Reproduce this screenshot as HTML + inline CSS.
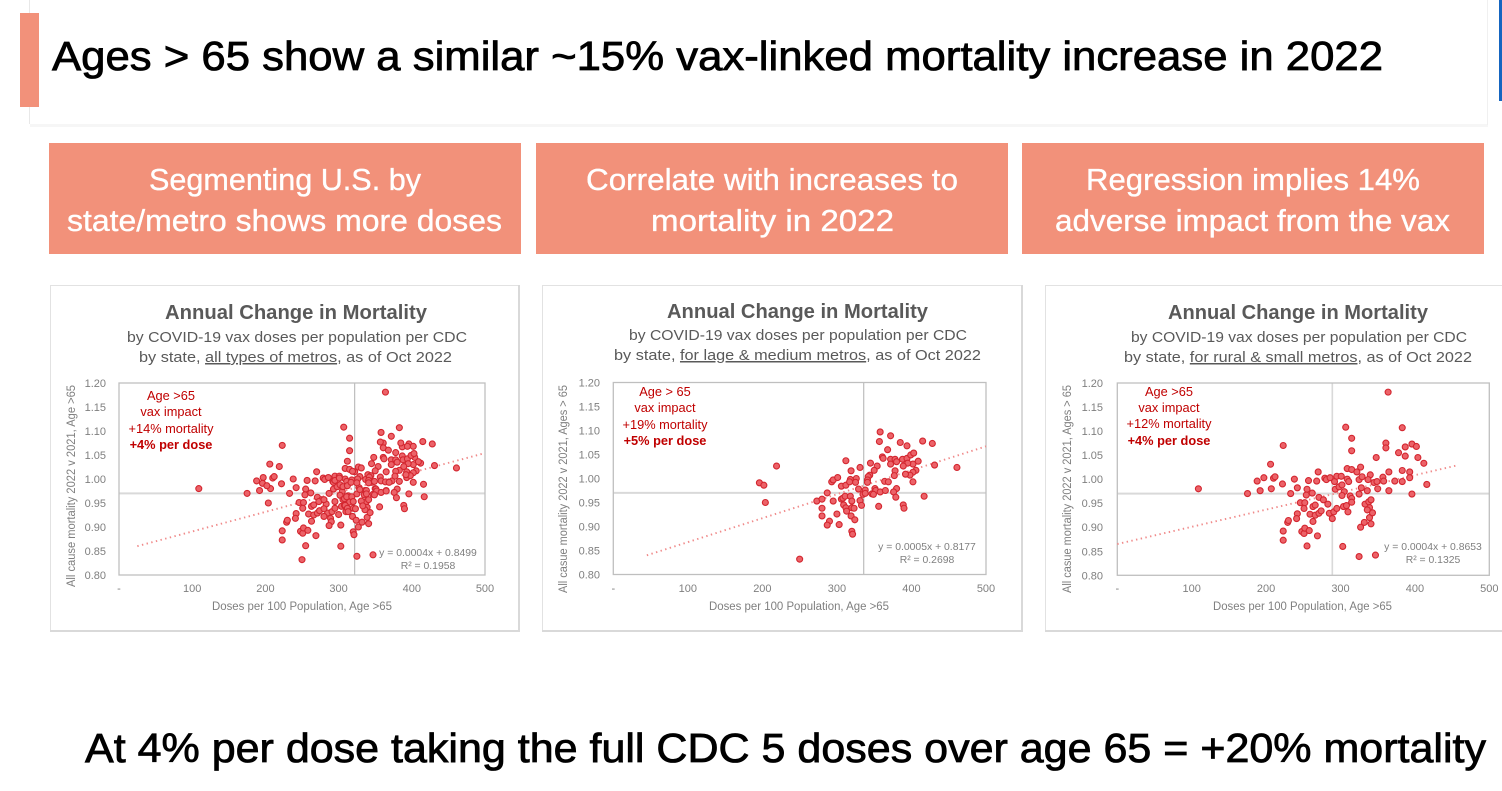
<!DOCTYPE html>
<html lang="en">
<head>
<meta charset="utf-8">
<title>Ages over 65 vax-linked mortality</title>
<style>
html,body{margin:0;padding:0;background:#fff;width:1502px;height:791px;overflow:hidden}
svg{display:block;font-family:"Liberation Sans",sans-serif}
.hd{fill:#fff;font-size:31px;stroke:#fff;stroke-width:.35}
.big{fill:#000;font-size:41px;stroke:#000;stroke-width:.8}
.ct{fill:#595959;font-size:20px;font-weight:bold}
.cs{fill:#595959;font-size:15px}
.tick{fill:#7f7f7f;font-size:11px}
.axt{fill:#7f7f7f;font-size:11.5px}
.ann{fill:#c00000;font-size:12.8px;text-anchor:middle}
.eq{fill:#7f7f7f;font-size:10.4px;text-anchor:middle}
.soft{filter:blur(.3px)}
</style>
</head>
<body>
<svg id="slide" width="1502" height="791" viewBox="0 0 1502 791" xmlns="http://www.w3.org/2000/svg">
  <rect x="30" y="124" width="1458" height="3" fill="#f6f6f6"/>
  <line x1="29.5" y1="0" x2="29.5" y2="124" stroke="#e8e8e8"/>
  <line x1="1487.5" y1="0" x2="1487.5" y2="125" stroke="#f0f0f0"/>
  <rect x="20" y="13" width="19" height="94" fill="#f2917a"/>
  <rect x="1499" y="0" width="3" height="101" fill="#1565c0"/>
  <text class="big" x="52" y="70" textLength="1331" lengthAdjust="spacingAndGlyphs">Ages &gt; 65 show a similar ~15% vax-linked mortality increase in 2022</text>

  <rect x="49" y="143" width="472" height="111" fill="#f2917a"/>
  <text class="hd" x="149" y="190" textLength="272" lengthAdjust="spacingAndGlyphs">Segmenting U.S. by</text>
  <text class="hd" x="67" y="231" textLength="435" lengthAdjust="spacingAndGlyphs">state/metro shows more doses</text>

  <rect x="536" y="143" width="472" height="111" fill="#f2917a"/>
  <text class="hd" x="586" y="190" textLength="372" lengthAdjust="spacingAndGlyphs">Correlate with increases to</text>
  <text class="hd" x="651" y="231" textLength="243" lengthAdjust="spacingAndGlyphs">mortality in 2022</text>

  <rect x="1022" y="143" width="462" height="111" fill="#f2917a"/>
  <text class="hd" x="1086" y="190" textLength="334" lengthAdjust="spacingAndGlyphs">Regression implies 14%</text>
  <text class="hd" x="1055" y="231" textLength="395" lengthAdjust="spacingAndGlyphs">adverse impact from the vax</text>

  <g id="chart1" class="soft">
    <rect x="50.5" y="285.5" width="468" height="345" fill="#fff" stroke="#e2e2e2" stroke-width="1"/>
    <path d="M519 285V631H50" fill="none" stroke="#d9d9d9" stroke-width="2"/>
    <text class="ct" x="165" y="319" textLength="262" lengthAdjust="spacingAndGlyphs">Annual Change in Mortality</text>
    <text class="cs" x="127" y="342" textLength="340" lengthAdjust="spacingAndGlyphs">by COVID-19 vax doses per population per CDC</text>
    <text class="cs" x="139" y="362" textLength="313" lengthAdjust="spacingAndGlyphs">by state, <tspan text-decoration="underline">all types of metros</tspan>, as of Oct 2022</text>
    <text class="axt" transform="translate(75,587) rotate(-90)" textLength="202" lengthAdjust="spacingAndGlyphs">All cause mortality 2022 v 2021, Age &gt;65</text>
    <text class="axt" x="212" y="610" textLength="180" lengthAdjust="spacingAndGlyphs">Doses per 100 Population, Age &gt;65</text>
  </g>

  <g id="chart2" class="soft">
    <rect x="542.5" y="285.5" width="479" height="345" fill="#fff" stroke="#e2e2e2" stroke-width="1"/>
    <path d="M1022 285V631H542" fill="none" stroke="#d9d9d9" stroke-width="2"/>
    <text class="ct" x="667" y="318" textLength="261" lengthAdjust="spacingAndGlyphs">Annual Change in Mortality</text>
    <text class="cs" x="629" y="340" textLength="338" lengthAdjust="spacingAndGlyphs">by COVID-19 vax doses per population per CDC</text>
    <text class="cs" x="614" y="360" textLength="367" lengthAdjust="spacingAndGlyphs">by state, <tspan text-decoration="underline">for lage &amp; medium metros</tspan>, as of Oct 2022</text>
    <text class="axt" transform="translate(567,593) rotate(-90)" textLength="208" lengthAdjust="spacingAndGlyphs">All casue mortality 2022 v 2021, Ages &gt; 65</text>
    <text class="axt" x="709" y="610" textLength="180" lengthAdjust="spacingAndGlyphs">Doses per 100 Population, Age &gt;65</text>
  </g>

  <g id="chart3" class="soft">
    <rect x="1045.5" y="285.5" width="470" height="345" fill="#fff" stroke="#e2e2e2" stroke-width="1"/>
    <path d="M1045 631H1510" fill="none" stroke="#d9d9d9" stroke-width="2"/>
    <text class="ct" x="1168" y="319" textLength="260" lengthAdjust="spacingAndGlyphs">Annual Change in Mortality</text>
    <text class="cs" x="1131" y="342" textLength="336" lengthAdjust="spacingAndGlyphs">by COVID-19 vax doses per population per CDC</text>
    <text class="cs" x="1124" y="362" textLength="348" lengthAdjust="spacingAndGlyphs">by state, <tspan text-decoration="underline">for rural &amp; small metros</tspan>, as of Oct 2022</text>
    <text class="axt" transform="translate(1071,593) rotate(-90)" textLength="208" lengthAdjust="spacingAndGlyphs">All casue mortality 2022 v 2021, Ages &gt; 65</text>
    <text class="axt" x="1213" y="610" textLength="179" lengthAdjust="spacingAndGlyphs">Doses per 100 Population, Age &gt;65</text>
  </g>

  <text class="big" x="85" y="762" textLength="1401" lengthAdjust="spacingAndGlyphs">At 4% per dose taking the full CDC 5 doses over age 65 = +20% mortality</text>
</svg>

<script>
const xTickValues = [0, 100, 200, 300, 400, 500];
const xTickLabels = ['-', '100', '200', '300', '400', '500'];
const yTickValues = [0.80, 0.85, 0.90, 0.95, 1.00, 1.05, 1.10, 1.15, 1.20];
const yTickLabels = ['0.80', '0.85', '0.90', '0.95', '1.00', '1.05', '1.10', '1.15', '1.20'];

const chart1Doses = [
109,175,188,192,197,206,207,210,212,223,
222,223,223,238,233,242,242,241,229,230,
248,251,252,258,255,269,270,257,268,255,
254,262,246,252,251,263,266,259,266,263,
271,271,274,277,283,285,289,291,295,279,
281,286,292,295,301,293,298,302,305,302,
313,315,315,304,308,310,307,315,315,309,
315,322,327,309,311,325,329,340,337,345,
349,357,358,328,325,336,350,365,348,361,
361,365,364,303,325,347,327,332,341,339,
343,339,333,338,341,336,378,383,387,387,
396,402,404,412,383,393,393,383,373,416,
396,
196,202,204,219,250,273,280,280,280,287,
290,287,293,295,301,306,312,312,319,318,
317,326,325,331,295,306,308,311,318,320,
309,312,313,300,303,320,323,319,324,320,
321,329,331,333,335,338,338,345,354,350,
344,342,341,341,347,351,352,349,358,365,
356,358,357,361,362,368,372,385,394,415,
428,372,372,378,388,394,399,403,409,402,
395,389,380,378,377,406,402,398,392,402,
364,369,380,376,379,389,390,417,431,461];
const chart1Mortality = [
.98,.97,.996,.976,1.003,1.031,.98,1.002,1.005,1.07,
.99,.892,.873,1.0,.97,.982,.928,.918,.91,.914,
.891,.887,.898,.893,.861,.882,1.015,.997,.996,.979,
.967,.971,.951,.951,.939,.943,.946,.927,.925,.912,
.962,.929,.934,.957,.948,.929,.918,.932,.939,1.002,
.999,1.003,.995,1.006,1.006,.979,.984,.988,.974,.966,
.965,.96,.952,.943,.945,.932,1.108,1.085,1.059,1.022,
1.02,1.015,1.025,1.0,.995,.999,1.005,1.009,.999,.993,
.995,1.004,.996,.982,.969,.976,.98,.976,1.045,1.075,
1.065,1.015,1.181,.86,.839,.842,.9,.91,.907,.92,
.93,.941,.948,.953,.957,.936,1.055,1.107,1.067,1.048,
1.073,1.068,1.045,1.033,1.018,1.015,1.003,.995,.996,.989,
.969,
.991,.986,.95,1.026,.832,.953,.957,.938,.922,.97,
.911,.903,.993,.997,1.002,.984,.986,1.037,1.016,.998,
.993,1.0,.992,1.023,.953,.957,.959,.963,.963,.953,
.945,.939,.932,.926,.904,.939,.938,.922,.914,.89,
.884,.978,.954,.944,.967,.976,.969,1.032,1.026,1.017,
1.007,1.004,.997,.992,.968,.979,.975,.967,.972,.975,
.942,1.097,1.077,1.045,1.042,1.06,1.089,1.075,1.068,1.078,
1.073,1.04,1.03,1.04,1.04,1.042,1.049,1.053,1.036,1.03,
1.032,1.026,1.035,1.016,1.006,1.017,1.013,1.007,1.009,.993,
.994,.993,.979,.972,.961,.945,.938,.963,1.028,1.023];
const chart1TrendDoses = [25, 500];
const chart1TrendMortality = [0.86, 1.054];
const chart1MeanDoses = 322;
const chart1MeanMortality = 0.97;

const chart2Doses = [
196,202,204,219,250,273,280,280,280,287,
290,287,293,295,301,306,312,312,319,318,
317,326,325,331,295,306,308,311,318,320,
309,312,313,300,303,320,323,319,324,320,
321,329,331,333,335,338,338,345,354,350,
344,342,341,341,347,351,352,349,358,365,
356,358,357,361,362,368,372,385,394,415,
428,372,372,378,388,394,399,403,409,402,
395,389,380,378,377,406,402,398,392,402,
364,369,380,376,379,389,390,417,431,461];
const chart2Mortality = [
.991,.986,.95,1.026,.832,.953,.957,.938,.922,.97,
.911,.903,.993,.997,1.002,.984,.986,1.037,1.016,.998,
.993,1.0,.992,1.023,.953,.957,.959,.963,.963,.953,
.945,.939,.932,.926,.904,.939,.938,.922,.914,.89,
.884,.978,.954,.944,.967,.976,.969,1.032,1.026,1.017,
1.007,1.004,.997,.992,.968,.979,.975,.967,.972,.975,
.942,1.097,1.077,1.045,1.042,1.06,1.089,1.075,1.068,1.078,
1.073,1.04,1.03,1.04,1.04,1.042,1.049,1.053,1.036,1.03,
1.032,1.026,1.035,1.016,1.006,1.017,1.013,1.007,1.009,.993,
.994,.993,.979,.972,.961,.945,.938,.963,1.028,1.023];
const chart2TrendDoses = [45, 500];
const chart2TrendMortality = [0.84, 1.067];
const chart2MeanDoses = 336;
const chart2MeanMortality = 0.97;

const chart3Doses = [
109,175,188,192,197,206,207,210,212,223,
222,223,223,238,233,242,242,241,229,230,
248,251,252,258,255,269,270,257,268,255,
254,262,246,252,251,263,266,259,266,263,
271,271,274,277,283,285,289,291,295,279,
281,286,292,295,301,293,298,302,305,302,
313,315,315,304,308,310,307,315,315,309,
315,322,327,309,311,325,329,340,337,345,
349,357,358,328,325,336,350,365,348,361,
361,365,364,303,325,347,327,332,341,339,
343,339,333,338,341,336,378,383,387,387,
396,402,404,412,383,393,393,383,373,416,
396];
const chart3Mortality = [
.98,.97,.996,.976,1.003,1.031,.98,1.002,1.005,1.07,
.99,.892,.873,1.0,.97,.982,.928,.918,.91,.914,
.891,.887,.898,.893,.861,.882,1.015,.997,.996,.979,
.967,.971,.951,.951,.939,.943,.946,.927,.925,.912,
.962,.929,.934,.957,.948,.929,.918,.932,.939,1.002,
.999,1.003,.995,1.006,1.006,.979,.984,.988,.974,.966,
.965,.96,.952,.943,.945,.932,1.108,1.085,1.059,1.022,
1.02,1.015,1.025,1.0,.995,.999,1.005,1.009,.999,.993,
.995,1.004,.996,.982,.969,.976,.98,.976,1.045,1.075,
1.065,1.015,1.181,.86,.839,.842,.9,.91,.907,.92,
.93,.941,.948,.953,.957,.936,1.055,1.107,1.067,1.048,
1.073,1.068,1.045,1.033,1.018,1.015,1.003,.995,.996,.989,
.969];
const chart3TrendDoses = [0, 455];
const chart3TrendMortality = [0.865, 1.028];
const chart3MeanDoses = 289;
const chart3MeanMortality = 0.97;

const NS = 'http://www.w3.org/2000/svg';

function make(tag, attrs, parent) {
  const el = document.createElementNS(NS, tag);
  for (const k in attrs) el.setAttribute(k, attrs[k]);
  parent.appendChild(el);
  return el;
}

function drawChart(o) {
  const g = document.getElementById(o.id);
  const sx = v => o.left + (v - xTickValues[0]) / (xTickValues[xTickValues.length - 1] - xTickValues[0]) * (o.right - o.left);
  const sy = v => o.bottom - (v - yTickValues[0]) / (yTickValues[yTickValues.length - 1] - yTickValues[0]) * (o.bottom - o.top);

  const hLine = make('line', {x1: o.left, x2: o.right, y1: sy(o.meanMortality), y2: sy(o.meanMortality), stroke: '#d9d9d9', 'stroke-width': 2}, g);
  
  

  const vLine = make('line', {x1: sx(o.meanDoses), x2: sx(o.meanDoses), y1: o.top, y2: o.bottom, stroke: o.vColor, 'stroke-width': o.vWidth}, g);
  
  

  const frame = make('rect', {x: o.left, y: o.top, width: o.right - o.left, height: o.bottom - o.top, fill: 'none', stroke: '#bfbfbf', 'stroke-width': 1.3}, g);
  
  

  xTickValues.forEach((v, i) => {
    const t = make('text', {class: 'tick', x: sx(v), y: 592, 'text-anchor': 'middle'}, g);
    t.textContent = xTickLabels[i];
    
    
  });
  yTickValues.forEach((v, i) => {
    const t = make('text', {class: 'tick', x: o.labelRight, y: sy(v) + 4, 'text-anchor': 'end'}, g);
    t.textContent = yTickLabels[i];
    
    
  });

  const trend = make('line', {
    x1: sx(o.trendDoses[0]), y1: sy(o.trendMortality[0]),
    x2: sx(o.trendDoses[1]), y2: sy(o.trendMortality[1]),
    stroke: '#f08a8a', 'stroke-width': 1.9, 'stroke-dasharray': '1.4 3.4'
  }, g);
  
  

  o.doses.forEach((d, i) => {
    const c = make('circle', {cx: sx(d), cy: sy(o.mortality[i]), r: 3, fill: '#ec6268', stroke: '#d3262f', 'stroke-width': 1.1}, g);
    
    
  });

  o.notes.forEach((line, i) => {
    const t = make('text', {class: 'ann', x: o.noteX, y: o.noteY[i], 'font-weight': i === 3 ? 'bold' : 'normal'}, g);
    t.textContent = line;
    
    
  });

  o.equation.forEach((line, i) => {
    const t = make('text', {class: 'eq', x: o.eqX, y: o.eqY[i]}, g);
    t.textContent = line;
    
    
  });
}

drawChart({
  id: 'chart1', left: 119, right: 485, top: 383, bottom: 575, labelRight: 106,
  doses: chart1Doses, mortality: chart1Mortality,
  trendDoses: chart1TrendDoses, trendMortality: chart1TrendMortality,
  meanDoses: chart1MeanDoses, meanMortality: chart1MeanMortality,
  vColor: '#b0b0b0', vWidth: 1,
  notes: ['Age >65', 'vax impact', '+14% mortality', '+4% per dose'],
  noteX: 171, noteY: [400, 416, 433, 449],
  equation: ['y = 0.0004x + 0.8499', 'R\u00b2 = 0.1958'],
  eqX: 428, eqY: [556, 569]
});

drawChart({
  id: 'chart2', left: 613.3, right: 986, top: 382.5, bottom: 574.5, labelRight: 600,
  doses: chart2Doses, mortality: chart2Mortality,
  trendDoses: chart2TrendDoses, trendMortality: chart2TrendMortality,
  meanDoses: chart2MeanDoses, meanMortality: chart2MeanMortality,
  vColor: '#b0b0b0', vWidth: 1,
  notes: ['Age > 65', 'vax impact', '+19% mortality', '+5% per dose'],
  noteX: 665, noteY: [396, 412, 429, 445],
  equation: ['y = 0.0005x + 0.8177', 'R\u00b2 = 0.2698'],
  eqX: 927, eqY: [550, 563]
});

drawChart({
  id: 'chart3', left: 1117.3, right: 1489.3, top: 383, bottom: 575.3, labelRight: 1103,
  doses: chart3Doses, mortality: chart3Mortality,
  trendDoses: chart3TrendDoses, trendMortality: chart3TrendMortality,
  meanDoses: chart3MeanDoses, meanMortality: chart3MeanMortality,
  vColor: '#d9d9d9', vWidth: 1.6,
  notes: ['Age >65', 'vax impact', '+12% mortality', '+4% per dose'],
  noteX: 1169, noteY: [396, 412, 428, 445],
  equation: ['y = 0.0004x + 0.8653', 'R\u00b2 = 0.1325'],
  eqX: 1433, eqY: [550, 563]
});
</script>
</body>
</html>
